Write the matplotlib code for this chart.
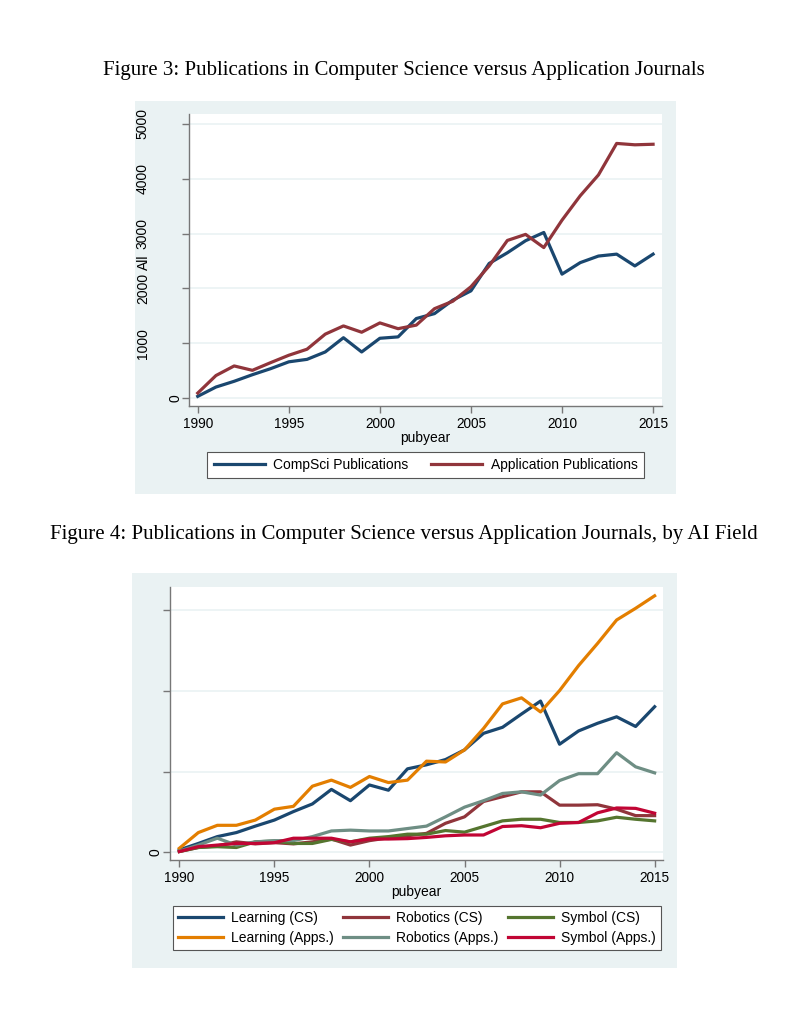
import matplotlib
matplotlib.use("Agg")
import matplotlib.pyplot as plt
import matplotlib.transforms as mtransforms
from matplotlib.patches import Rectangle

years = list(range(1990, 2016))

# Figure 3
compsci = [30, 200, 305, 425, 535, 660, 705, 840, 1100, 840, 1090, 1115, 1450, 1540,
           1785, 1955, 2455, 2650, 2870, 3020, 2260, 2470, 2590, 2625, 2410, 2625]
applications = [90, 410, 585, 505, 645, 780, 890, 1165, 1315, 1200, 1370, 1265, 1330, 1630,
                1765, 2030, 2410, 2875, 2985, 2745, 3245, 3690, 4070, 4645, 4620, 4630]

# Figure 4
learning_cs = [30, 110, 195, 245, 325, 400, 505, 600, 780, 640, 835, 770, 1035, 1085,
               1150, 1270, 1475, 1550, 1715, 1875, 1340, 1505, 1600, 1680, 1560, 1805]
learning_apps = [50, 245, 335, 335, 400, 535, 570, 820, 895, 805, 940, 865, 895, 1130,
                 1120, 1270, 1535, 1840, 1915, 1740, 2005, 2315, 2590, 2880, 3025, 3180]
robotics_cs = [10, 60, 80, 130, 105, 120, 105, 130, 165, 90, 145, 180, 205, 235,
               360, 440, 630, 690, 750, 750, 585, 585, 590, 535, 455, 455]
robotics_apps = [15, 90, 175, 90, 130, 145, 145, 195, 265, 275, 265, 265, 295, 325,
                 440, 560, 640, 730, 750, 710, 890, 975, 975, 1235, 1060, 985]
symbol_cs = [10, 60, 70, 60, 130, 140, 110, 110, 160, 130, 175, 195, 225, 225,
             270, 250, 320, 390, 410, 410, 370, 370, 390, 435, 410, 390]
symbol_apps = [10, 70, 90, 110, 110, 120, 175, 175, 175, 130, 165, 165, 170, 185,
               205, 215, 215, 320, 330, 305, 360, 370, 490, 550, 545, 485]

xticks = [1990, 1995, 2000, 2005, 2010, 2015]
yticks_top = [0, 1000, 2000, 3000, 4000, 5000]
yticks_bot = [0, 1000, 2000, 3000]

W, H = 808, 1024
BG = "#EAF2F3"
NAVY, MAROON, FOREST = "#1a476f", "#90353b", "#55752f"
DKORANGE, TEAL, CRAN = "#e37e00", "#6e8e84", "#c10534"

plt.rcParams['font.family'] = ['Liberation Sans', 'DejaVu Sans']

fig = plt.figure(figsize=(W / 100, H / 100), dpi=100)
fig.patch.set_facecolor("white")


def box(x0, y0, x1, y1):
    return [x0 / W, 1 - y1 / H, (x1 - x0) / W, (y1 - y0) / H]


def panel(x0, y0, x1, y1):
    r = Rectangle((x0 / W, 1 - y1 / H), (x1 - x0) / W, (y1 - y0) / H,
                  transform=fig.transFigure, facecolor=BG,
                  edgecolor="none", zorder=-10)
    fig.patches.append(r)
    return r


def style(ax, yt, ylim, xlim, axis_px, rect):
    ax.set_zorder(2)
    ax.set_facecolor("white")
    ax.set_xlim(*xlim)
    ax.set_ylim(*ylim)
    ax.set_xticks(xticks)
    ax.set_yticks(yt)
    ax.set_xticklabels([str(v) for v in xticks], fontsize=9.8)
    ax.tick_params(axis="y", labelleft=False)
    for s in ("top", "right"):
        ax.spines[s].set_visible(False)
    for s in ("left", "bottom"):
        ax.spines[s].set_color("#777777")
        ax.spines[s].set_linewidth(1.0)
    ax.tick_params(axis="both", direction="out", length=5, width=1.0,
                   color="#777777", pad=3)
    ax.grid(axis="y", color=BG, linewidth=1.2)
    ax.set_axisbelow(True)
    ax.set_xlabel("pubyear", fontsize=10, labelpad=0)
    # Stata-style vertical y labels: offset grows with label length, clipped to the panel
    tr = mtransforms.blended_transform_factory(fig.transFigure, ax.transData)
    for v in yt:
        s = str(v)
        xc = axis_px - 14 - (len(s) - 1) * 10.7
        t = fig.text(xc / W, v, s, transform=tr, rotation=90, ha="center",
                     va="center", fontsize=10)
        t.set_clip_path(rect)
        t.set_clip_on(True)


# Titles
fig.text(0.5, 1 - 70 / H, "Figure 3: Publications in Computer Science versus Application Journals",
         ha="center", va="center", fontsize=15, family="Liberation Serif")
fig.text(0.5, 1 - 535 / H,
         "Figure 4: Publications in Computer Science versus Application Journals, by AI Field",
         ha="center", va="center", fontsize=15, family="Liberation Serif")

# Top panel
r1 = panel(135, 101, 676, 494)
ax1 = fig.add_axes(box(189, 114, 662, 406))
l1, = ax1.plot(years, compsci, color=NAVY, lw=2.3, label="CompSci Publications")
l2, = ax1.plot(years, applications, color=MAROON, lw=2.3, label="Application Publications")
style(ax1, yticks_top, (-146, 5182), (1989.52, 2015.49), 189, r1)
fig.text(144 / W, 1 - 262 / H, "All", rotation=90, ha="center", va="center", fontsize=10)
leg1 = fig.legend(handles=[l1, l2], loc="center",
                  bbox_to_anchor=((208 + 643) / 2 / W, 1 - 465 / H),
                  ncol=2, fontsize=10, frameon=True, fancybox=False,
                  edgecolor="#555555", handlelength=3.7, columnspacing=1.6,
                  borderpad=0.45, handletextpad=0.6)
leg1.get_frame().set_linewidth(0.8)
leg1.get_frame().set_alpha(1)

# Bottom panel
r2 = panel(132, 573, 677, 968)
ax2 = fig.add_axes(box(170, 587, 663, 860))
a, = ax2.plot(years, learning_cs, color=NAVY, lw=2.3, label="Learning (CS)")
b, = ax2.plot(years, robotics_cs, color=MAROON, lw=2.3, label="Robotics (CS)")
c, = ax2.plot(years, symbol_cs, color=FOREST, lw=2.3, label="Symbol (CS)")
d, = ax2.plot(years, learning_apps, color=DKORANGE, lw=2.3, label="Learning (Apps.)")
e, = ax2.plot(years, robotics_apps, color=TEAL, lw=2.3, label="Robotics (Apps.)")
f, = ax2.plot(years, symbol_apps, color=CRAN, lw=2.3, label="Symbol (Apps.)")
style(ax2, yticks_bot, (-95, 3289), (1989.51, 2015.44), 170, r2)
leg2 = fig.legend(handles=[a, d, b, e, c, f], loc="center",
                  bbox_to_anchor=((175 + 659) / 2 / W, 1 - 928 / H),
                  ncol=3, fontsize=10, frameon=True, fancybox=False,
                  edgecolor="#555555", handlelength=3.2, columnspacing=0.7,
                  borderpad=0.4, handletextpad=0.6, labelspacing=0.4)
leg2.get_frame().set_linewidth(0.8)
leg2.get_frame().set_alpha(1)

fig.savefig("out.png", dpi=100, facecolor="white")
